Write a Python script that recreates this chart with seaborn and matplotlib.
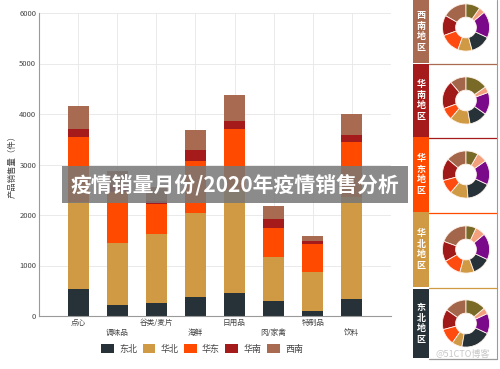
import numpy as np
import pandas as pd
import matplotlib
matplotlib.use("Agg")
import matplotlib.pyplot as plt
import seaborn as sns
from matplotlib.patches import Rectangle, Patch
from matplotlib.lines import Line2D

# ---------------- data ----------------
categories = ["点心", "调味品", "谷类/麦片", "海鲜", "日用品", "肉/家禽", "特制品", "饮料"]
regions = ["东北", "华北", "华东", "华南", "西南"]
northeast = [535, 218, 264, 383, 455, 297, 105, 337]
north = [1715, 1227, 1356, 1647, 2045, 878, 773, 2013]
east = [1300, 1005, 595, 1045, 1203, 565, 554, 1102]
south = [150, 150, 68, 212, 158, 180, 53, 132]
southwest = [458, 280, 267, 396, 515, 265, 99, 416]
y_ticks = [0, 1000, 2000, 3000, 4000, 5000, 6000]

# donut shares per region (category order as above)
donut_southwest = [60, 50, 50, 35, 50, 65, 15, 35]
donut_south = [40, 70, 30, 50, 45, 55, 15, 55]
donut_east = [50, 55, 35, 45, 60, 60, 25, 30]
donut_north = [70, 50, 45, 35, 45, 65, 25, 25]
donut_northeast = [55, 50, 40, 25, 75, 50, 15, 50]
panel_order = ["西南", "华南", "华东", "华北", "东北"]

region_colors = {"东北": "#263238", "华北": "#d09a45", "华东": "#ff4a00",
                 "华南": "#a51b1b", "西南": "#a86a50"}
category_colors = ["#a3664b", "#a11a1a", "#ff4a10", "#d09a45",
                   "#263238", "#7a0a8a", "#f2a07e", "#7a6a28"]

df = pd.DataFrame({"品类": categories, "东北": northeast, "华北": north,
                   "华东": east, "华南": south, "西南": southwest})
cum = df[regions].cumsum(axis=1)

sns.set_theme(style="whitegrid")
plt.rcParams["font.family"] = ["Noto Sans CJK SC", "DejaVu Sans"]

W, H = 500, 369
fig = plt.figure(figsize=(W / 100, H / 100), dpi=100)
fig.patch.set_facecolor("white")


def fx(px):
    return px / W


def fy(py):
    return 1 - py / H


# ---------------- main stacked bar ----------------
ax = fig.add_axes([fx(39), fy(316), fx(391) - fx(39), fy(13) - fy(316)])
for r in reversed(regions):
    sns.barplot(x=df["品类"], y=cum[r], order=categories, color=region_colors[r],
                saturation=1, width=0.54, linewidth=0, ax=ax, errorbar=None)

ax.set_xlim(-1, 8)
ax.set_ylim(0, 6000)
ax.set_yticks(y_ticks)
ax.set_yticklabels([str(v) for v in y_ticks], fontsize=5.5, color="#444444")
ax.set_xticks(range(len(categories)))
ax.set_xticklabels([c if i % 2 == 0 else "\n" + c for i, c in enumerate(categories)],
                   fontsize=5.5, color="#444444", linespacing=1.3)
ax.tick_params(axis="both", length=0, pad=2)
ax.xaxis.grid(True, color="#e6e6e6", lw=0.6)
ax.yaxis.grid(True, color="#e6e6e6", lw=0.6)
ax.set_axisbelow(True)
for s in ["top", "right"]:
    ax.spines[s].set_visible(False)
for s in ["left", "bottom"]:
    ax.spines[s].set_color("#9a9a9a")
    ax.spines[s].set_linewidth(0.8)
ax.set_xlabel("")
ax.set_ylabel("产品销售量（件）", fontsize=6, color="#444444")
ax.yaxis.set_label_coords(-0.062, 0.5)

handles = [Patch(facecolor=region_colors[r], edgecolor="none") for r in regions]
fig.legend(handles, regions, loc="center", bbox_to_anchor=(fx(202), fy(349)),
           ncol=5, frameon=False, fontsize=6.5, handlelength=1.4, handleheight=1.1,
           handletextpad=0.6, columnspacing=0.6, labelcolor="#444444")

# ---------------- right panel ----------------
bands = {"西南": (0, 63), "华南": (64, 137), "华东": (137, 212),
         "华北": (212, 287), "东北": (289, 358)}
donut_values = {"东北": donut_northeast, "华北": donut_north, "华东": donut_east,
                "华南": donut_south, "西南": donut_southwest}
for r in panel_order:
    y0, y1 = bands[r]
    fig.patches.append(Rectangle((fx(413), fy(y1)), fx(429) - fx(413), fy(y0) - fy(y1),
                                 transform=fig.transFigure, facecolor=region_colors[r],
                                 edgecolor="none", zorder=2))
    fig.text(fx(421), fy((y0 + y1) / 2), "\n".join(r + "地区"), ha="center", va="center",
             fontsize=6.5, color="white", fontweight="bold", linespacing=1.25, zorder=3)
    fig.lines.append(Line2D([fx(429), fx(497)], [fy(y1 + 1), fy(y1 + 1)],
                            transform=fig.transFigure, color=region_colors[r]
                            if r != "东北" else "#9a9a9a", lw=0.9))
    cy = (y0 + y1) / 2 - 4 if r == "西南" else (y0 + y1) / 2
    dax = fig.add_axes([fx(466 - 25), fy(cy + 25), fx(50), fx(50) * W / H])
    dax.pie(donut_values[r], colors=category_colors, startangle=90, counterclock=True,
            wedgeprops=dict(width=0.56, edgecolor="#fff3ea", linewidth=0.6))
    dax.set_xlim(-1.06, 1.06)
    dax.set_ylim(-1.06, 1.06)
    dax.set_aspect("equal")
    dax.axis("off")

fig.lines.append(Line2D([fx(497), fx(497)], [fy(0), fy(359)], transform=fig.transFigure,
                        color="#9a9a9a", lw=0.8))

# ---------------- overlay banner & watermark ----------------
fig.patches.append(Rectangle((fx(62), fy(203)), fx(408) - fx(62), fy(166) - fy(203),
                             transform=fig.transFigure, facecolor="#777777", alpha=0.85,
                             edgecolor="none", zorder=10))
fig.text(fx(235), fy(184.5), "疫情销量月份/2020年疫情销售分析", ha="center", va="center",
         fontsize=15, color="white", fontweight="bold", zorder=11)
fig.text(fx(463), fy(354), "@51CTO博客", ha="center", va="center", fontsize=6.5,
         color="#c8c8c8", zorder=11)

fig.savefig("out.png", dpi=100)
